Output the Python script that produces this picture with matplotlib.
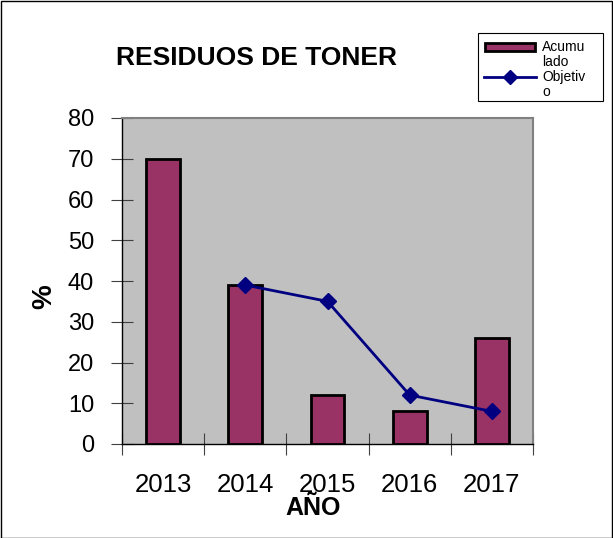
import matplotlib
matplotlib.use("Agg")
import matplotlib.pyplot as plt
from matplotlib.patches import Rectangle
from matplotlib.lines import Line2D

plt.rcParams['font.family'] = ['Liberation Sans', 'DejaVu Sans']

years = ["2013", "2014", "2015", "2016", "2017"]
acumulado = [70, 39, 12, 8, 26]
objetivo_years = ["2014", "2015", "2016", "2017"]
objetivo = [39, 35, 12, 8]
legend_labels = ["Acumu\nlado", "Objetiv\no"]

BAR_COLOR = '#993366'
LINE_COLOR = '#000080'

W, H = 613, 538
fig = plt.figure(figsize=(W/100, H/100), dpi=100)


def fx(px):
    return px / W


def fy(py):
    return 1 - py / H


fig.patches.append(Rectangle((0.5/W, 0.5/H), (W-1.5)/W, (H-1.5)/H, transform=fig.transFigure,
                             fill=False, edgecolor='black', linewidth=1))

ax = fig.add_axes([fx(122), fy(444), (533-122)/W, (444-118)/H])
ax.set_facecolor('#C0C0C0')
x = list(range(len(years)))
ax.bar(x, acumulado, width=0.41, color=BAR_COLOR, edgecolor='black', linewidth=2, zorder=2)
xo = [years.index(y) for y in objetivo_years]
ax.plot(xo, objetivo, color=LINE_COLOR, linewidth=2, marker='D', markersize=8, zorder=3)

ax.set_xlim(-0.5, len(years) - 0.5)
ax.set_ylim(0, 80)
ax.set_yticks(range(0, 81, 10))
ax.set_xticks([i + 0.5 for i in range(-1, len(years))])
ax.set_xticklabels([])
ax.set_xticks(x, minor=True)
ax.set_xticklabels(years, minor=True, fontsize=18.5)
ax.tick_params(axis='x', which='minor', length=0, pad=21)
ax.tick_params(axis='x', which='major', direction='inout', length=16, color='#404040')
ax.tick_params(axis='y', direction='inout', length=16, labelsize=17, pad=12, color='#404040')

for s in ['top', 'right']:
    ax.spines[s].set_color('#808080')
    ax.spines[s].set_linewidth(1.5)
for s in ['left', 'bottom']:
    ax.spines[s].set_color('black')
    ax.spines[s].set_linewidth(1)

fig.text(fx(313), fy(515), 'AÑO', fontsize=18, fontweight='bold', ha='center', va='baseline')
fig.text(fx(44), fy(297), '%', fontsize=20, fontweight='bold', ha='center', va='center',
         rotation=90)

fig.text(fx(256), fy(58), 'RESIDUOS DE TONER', fontsize=19, fontweight='bold',
         ha='center', va='center')

# legend
fig.patches.append(Rectangle((fx(478), fy(101)), (603-478)/W, (101-33)/H,
                             transform=fig.transFigure, facecolor='white',
                             edgecolor='black', linewidth=0.8))
fig.patches.append(Rectangle((fx(485), fy(51)), (535-485)/W, 8/H, transform=fig.transFigure,
                             facecolor=BAR_COLOR, edgecolor='black', linewidth=2))
fig.lines.append(Line2D([fx(484), fx(536)], [fy(77), fy(77)], transform=fig.transFigure,
                        color=LINE_COLOR, linewidth=2))
fig.lines.append(Line2D([fx(510)], [fy(77)], transform=fig.transFigure,
                        color=LINE_COLOR, marker='D', markersize=7, linestyle='none'))
ys = [47, 62, 77, 92]
lines_txt = legend_labels[0].split('\n') + legend_labels[1].split('\n')
for t, yy in zip(lines_txt, ys):
    fig.text(fx(542), fy(yy), t, fontsize=10, ha='left', va='center')

fig.savefig('out.png', dpi=100)
